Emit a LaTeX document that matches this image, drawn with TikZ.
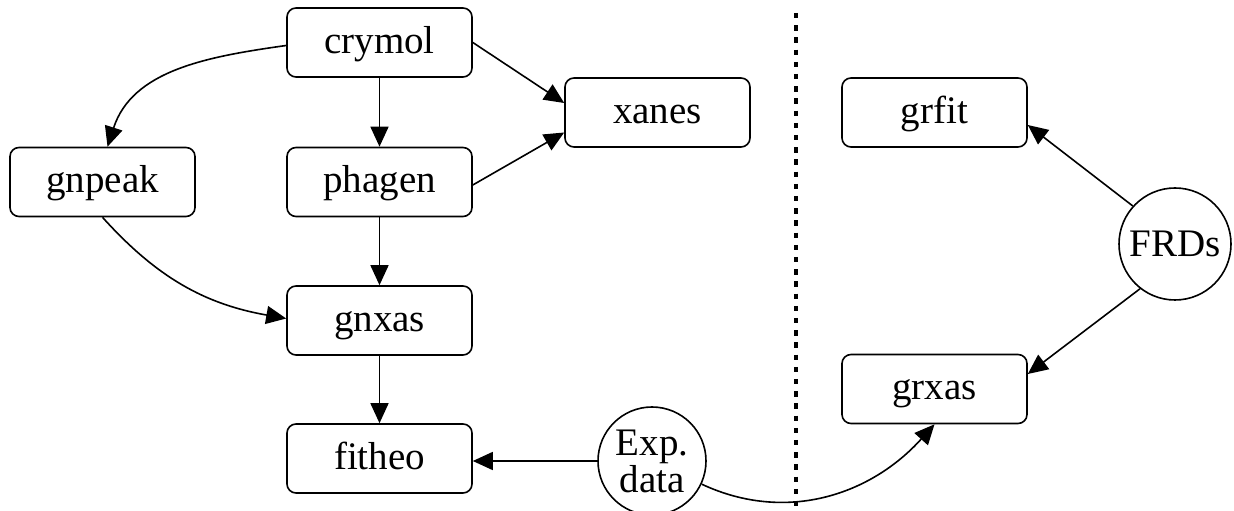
\documentclass[tikz,border=0pt]{standalone}
\usepackage{fontspec}
\setmainfont{Liberation Serif}
\usetikzlibrary{arrows.meta,calc}
\begin{document}
\begin{tikzpicture}[
  x=1pt,y=1pt,
  every node/.style={font=\fontsize{39}{37}\selectfont},
  box/.style={draw, line width=1.6pt, rounded corners=9pt, minimum width=185pt, minimum height=69pt, inner sep=0pt, text height=30pt, text depth=8pt},
  disc/.style={draw, circle, line width=1.6pt, inner sep=0pt, align=center},
  arr/.style={line width=1.6pt, -{Triangle[length=20pt,width=18pt]}},
  divider/.style={line width=3.2pt, dash pattern=on 5.5pt off 6.7pt}
]
\useasboundingbox (0,0) rectangle (1234,511);
\node[box] (crymol) at (379.5,468.5) {crymol};
\node[box] (phagen) at (379.5,329) {phagen};
\node[box] (gnxas) at (379.5,190.5) {gnxas};
\node[box] (fitheo) at (379.5,52.5) {fitheo};
\node[box] (gnpeak) at (102.5,329) {gnpeak};
\node[box] (xanes) at (657.5,398.5) {xanes};
\node[box] (grfit) at (934.5,398.5) {grfit};
\node[box] (grxas) at (934.5,122) {grxas};
\node[disc, minimum size=112pt] (frds) at (1175,267) {FRDs};
\node[disc, minimum size=108pt] (exp) at (652,50) {Exp.\\data};

\draw[arr] ([yshift=-3pt]crymol.west) to[out=188,in=72] ([xshift=5pt]gnpeak.north);
\draw[arr] (crymol.south) -- (phagen.north);
\draw[arr] (crymol.east) -- ([yshift=9.5pt]xanes.west);
\draw[arr] ([yshift=-3pt]phagen.east) -- ([yshift=-20pt]xanes.west);
\draw[arr] (phagen.south) -- (gnxas.north);
\draw[arr] (gnpeak.south) to[out=-48,in=170] ([yshift=2pt]gnxas.west);
\draw[arr] (gnxas.south) -- (fitheo.north);
\draw[arr] (exp.west) -- (exp.west -| fitheo.east);
\draw[arr] (exp.-25) to[out=-25,in=228] (grxas.south);
\draw[arr] (frds.138) -- ([yshift=-12.5pt]grfit.east);
\draw[arr] (frds.232) -- ([yshift=15pt]grxas.east);
\coordinate (dtop) at (796,498);
\coordinate (dbot) at (796,0);
\draw[divider] (dtop) -- (dbot);
\end{tikzpicture}
\end{document}
